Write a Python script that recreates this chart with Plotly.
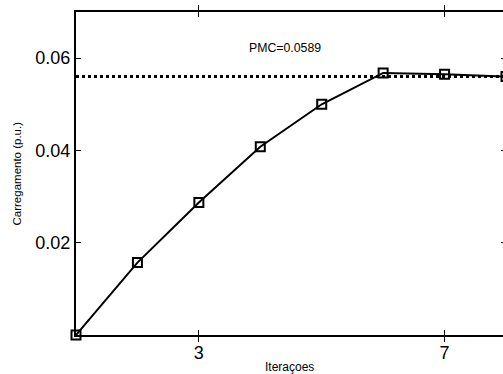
import plotly.graph_objects as go

iteracoes = [1, 2, 3, 4, 5, 6, 7, 8]
carregamento = [0.0, 0.0157, 0.0287, 0.0408, 0.0500, 0.0568, 0.0565, 0.0560]
pmc_line_x = [1, 8]
pmc_line_y = [0.0560, 0.0560]
pmc_label = "PMC=0.0589"
x_ticks = [3, 7]
y_ticks = [0.02, 0.04, 0.06]
y_tick_labels = ["0.02", "0.04", "0.06"]
x_title = "Iteraçoes"
y_title = "Carregamento (p.u.)"

FONT = "Liberation Sans, Arial, sans-serif"

fig = go.Figure()
fig.add_trace(go.Scatter(
    x=pmc_line_x, y=pmc_line_y, mode="lines",
    line=dict(color="black", width=3, dash="3px,3px"),
    showlegend=False, hoverinfo="skip"))
fig.add_trace(go.Scatter(
    x=iteracoes, y=carregamento, mode="lines+markers",
    line=dict(color="black", width=2),
    marker=dict(symbol="square-open", size=9, color="black", line=dict(width=2)),
    cliponaxis=False, showlegend=False, hoverinfo="skip"))
# invisible trace to activate the right-side tick axis
fig.add_trace(go.Scatter(x=[1], y=[0], yaxis="y2", mode="markers",
                         marker=dict(opacity=0), showlegend=False, hoverinfo="skip"))

fig.add_annotation(x=4.4, y=0.0622, xref="x", yref="y", text=pmc_label,
                   showarrow=False, font=dict(family=FONT, size=12.3, color="black"))
fig.add_annotation(x=0, y=0, xref="paper", yref="paper", xshift=213, yshift=-32,
                   xanchor="center", yanchor="middle",
                   text=x_title, showarrow=False,
                   font=dict(family=FONT, size=12, color="black"))
fig.add_annotation(x=0, y=0.5, xref="paper", yref="paper", xshift=-60,
                   xanchor="center", yanchor="middle",
                   text=y_title, textangle=-90, showarrow=False,
                   font=dict(family=FONT, size=11.5, color="black"))

fig.update_layout(
    width=510, height=374,
    margin=dict(l=76, r=4, t=12, b=39),
    paper_bgcolor="white", plot_bgcolor="white",
    hovermode=False, dragmode=False,
    font=dict(family=FONT, color="black"),
    xaxis=dict(range=[1, 8], tickvals=x_ticks, ticks="inside", ticklen=5,
               tickwidth=1, tickcolor="black",
               showline=True, linewidth=2, linecolor="black", mirror="allticks",
               showgrid=False, zeroline=False, fixedrange=True,
               tickfont=dict(size=18, family=FONT, color="black")),
    yaxis=dict(range=[0, 0.07], tickvals=y_ticks, ticktext=y_tick_labels,
               ticks="inside", ticklen=5, tickwidth=1, tickcolor="black",
               showline=True, linewidth=2, linecolor="black",
               showgrid=False, zeroline=False, fixedrange=True,
               tickfont=dict(size=18, family=FONT, color="black")),
    yaxis2=dict(range=[0, 0.07], tickvals=y_ticks, overlaying="y", side="right",
                ticks="inside", ticklen=5, tickwidth=1, tickcolor="black",
                showticklabels=False, showline=False, showgrid=False, zeroline=False,
                fixedrange=True),
)

fig.write_html(
    "out.html", config={"displayModeBar": False, "staticPlot": True},
    post_script=("document.body.style.margin='0';"
                 "document.body.style.overflow='hidden';"
                 "document.documentElement.style.overflow='hidden';"))
